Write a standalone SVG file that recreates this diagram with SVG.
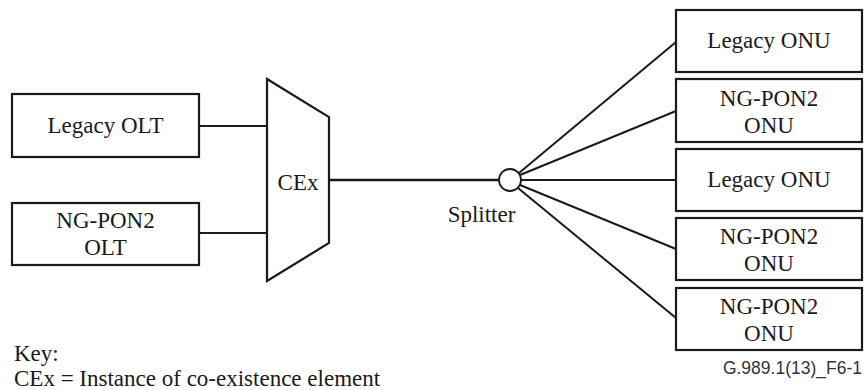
<svg xmlns="http://www.w3.org/2000/svg" width="868" height="390" viewBox="0 0 868 390">
<style>
.box{fill:#fff;stroke:#1a1a1a;stroke-width:2.2}
.ln{fill:none;stroke:#1a1a1a;stroke-width:2}
.t{font-family:'Liberation Serif','DejaVu Serif',serif;font-size:23px;fill:#1a1a1a;text-anchor:middle}
.tl{font-family:'Liberation Serif','DejaVu Serif',serif;font-size:23px;fill:#1a1a1a}
.ref{font-family:'Liberation Sans',Arial,sans-serif;font-size:17.5px;fill:#333;text-anchor:end}
</style>
<rect width="868" height="390" fill="#fff"/>
<g id="connectors">
<line class="ln" x1="199" y1="126" x2="267" y2="126"/>
<line class="ln" x1="199" y1="233" x2="267" y2="233"/>
<line class="ln" x1="329" y1="180" x2="499" y2="180" style="stroke-width:2.4"/>
<line class="ln" x1="519" y1="173" x2="676" y2="42"/>
<line class="ln" x1="520" y1="175" x2="676" y2="111"/>
<line class="ln" x1="521" y1="180" x2="676" y2="180"/>
<line class="ln" x1="520" y1="185" x2="676" y2="249"/>
<line class="ln" x1="518" y1="188" x2="676" y2="318"/>
</g>
<g id="legacy-olt"><rect class="box" x="12" y="94" width="187" height="63"/><text class="t" x="105.5" y="133">Legacy OLT</text></g>
<g id="ngpon2-olt"><rect class="box" x="12" y="203" width="187" height="62"/><text class="t" x="105.5" y="228">NG-PON2</text><text class="t" x="105.5" y="255">OLT</text></g>
<g id="cex"><polygon class="box" points="267,79 329,117 329,243 267,281"/><text class="t" x="298" y="190">CEx</text></g>
<g id="splitter"><circle class="box" cx="510" cy="180" r="11" style="stroke-width:1.8"/><text class="t" x="481.5" y="222">Splitter</text></g>
<g id="onu1"><rect class="box" x="676" y="10" width="186" height="62"/><text class="t" x="769" y="48">Legacy ONU</text></g>
<g id="onu2"><rect class="box" x="676" y="79" width="186" height="63"/><text class="t" x="769" y="106">NG-PON2</text><text class="t" x="769" y="133">ONU</text></g>
<g id="onu3"><rect class="box" x="676" y="149" width="186" height="62"/><text class="t" x="769" y="187">Legacy ONU</text></g>
<g id="onu4"><rect class="box" x="676" y="218" width="186" height="62"/><text class="t" x="769" y="244">NG-PON2</text><text class="t" x="769" y="271">ONU</text></g>
<g id="onu5"><rect class="box" x="676" y="288" width="186" height="62"/><text class="t" x="769" y="314">NG-PON2</text><text class="t" x="769" y="341">ONU</text></g>
<g id="key">
<text class="ref" x="862" y="374">G.989.1(13)_F6-1</text>
<text class="tl" x="14" y="361">Key:</text>
<text class="tl" x="14" y="386">CEx = Instance of co-existence element</text>
</g>
</svg>
